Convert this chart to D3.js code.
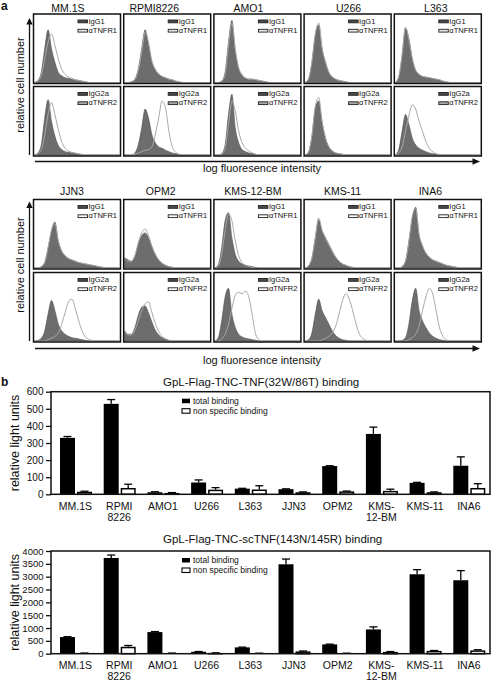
<!DOCTYPE html>
<html><head><meta charset="utf-8">
<script src="https://cdn.jsdelivr.net/npm/d3@7"></script>
<style>
body{margin:0;background:#fff}
svg{display:block}
text{font-family:"Liberation Sans",Arial,Helvetica,sans-serif;fill:#111}
</style>
</head><body>
<svg id="c" width="493" height="683"></svg>
<script>
// ---------- DATA ----------
const cellLinesA1 = ["MM.1S","RPMI8226","AMO1","U266","L363"];
const cellLinesA2 = ["JJN3","OPM2","KMS-12-BM","KMS-11","INA6"];
const legendRow1 = ["IgG1","\u03b1TNFR1"];
const legendRow2 = ["IgG2a","\u03b1TNFR2"];
// histograms: 26 bins along log fluorescence, % of panel height
// order: MM.1S, RPMI8226, AMO1, U266, L363, JJN3, OPM2, KMS-12-BM, KMS-11, INA6
const igg1Hist = [
 [0,3,15,50,78,50,30,15,10,7,6,5,4,3,2,1,0,0,0,0,0,0,0,0,0,0],
 [0,0,1,5,20,50,78,55,30,18,12,9,7,5,4,2,1,0,0,0,0,0,0,0,0,0],
 [0,0,2,15,60,92,45,20,10,6,5,5,4,3,2,1,0,0,0,0,0,0,0,0,0,0],
 [0,5,30,70,85,50,30,15,8,5,3,2,1,0,0,0,0,0,0,0,0,0,0,0,0,0],
 [0,8,40,80,65,35,18,12,9,8,7,6,5,4,2,1,0,0,0,0,0,0,0,0,0,0],
 [0,0,2,8,30,55,68,40,25,18,14,12,10,8,7,6,5,4,3,2,1,0,0,0,0,0],
 [15,12,10,18,35,48,52,45,32,20,12,7,4,2,1,0,0,0,0,0,0,0,0,0,0,0],
 [0,5,30,70,82,45,20,10,6,4,3,2,1,0,0,0,0,0,0,0,0,0,0,0,0,0],
 [0,3,15,45,72,55,45,35,25,16,10,6,4,2,1,0,0,0,0,0,0,0,0,0,0,0],
 [0,0,2,10,40,75,90,48,32,22,16,12,10,8,6,4,3,2,1,0,0,0,0,0,0,0]
];
const tnfr1Hist = [
 [0,2,10,35,60,72,55,35,20,12,8,6,4,3,2,1,0,0,0,0,0,0,0,0,0,0],
 [0,0,1,4,18,45,75,60,32,20,13,9,7,5,4,2,1,0,0,0,0,0,0,0,0,0],
 [0,0,2,12,55,88,50,22,12,7,5,5,4,3,2,1,0,0,0,0,0,0,0,0,0,0],
 [0,5,30,72,88,50,30,15,8,5,3,2,1,0,0,0,0,0,0,0,0,0,0,0,0,0],
 [0,8,40,82,63,35,18,12,9,8,7,6,5,4,2,1,0,0,0,0,0,0,0,0,0,0],
 [0,0,2,8,30,56,66,40,25,18,14,12,10,8,7,6,5,4,3,2,1,0,0,0,0,0],
 [14,10,10,18,38,52,58,48,32,20,12,7,4,2,1,0,0,0,0,0,0,0,0,0,0,0],
 [0,3,20,55,80,70,40,18,8,4,2,1,0,0,0,0,0,0,0,0,0,0,0,0,0,0],
 [0,3,14,44,74,56,44,34,24,16,10,6,4,2,1,0,0,0,0,0,0,0,0,0,0,0],
 [0,0,2,10,38,76,88,50,33,22,16,12,10,8,6,4,3,2,1,0,0,0,0,0,0,0]
];
const igg2aHist = [
 [0,3,15,55,82,50,28,14,8,5,4,3,2,1,0,0,0,0,0,0,0,0,0,0,0,0],
 [0,0,0,3,15,40,68,55,30,18,12,10,7,5,3,2,1,0,0,0,0,0,0,0,0,0],
 [0,0,2,15,60,90,40,18,8,5,3,2,1,0,0,0,0,0,0,0,0,0,0,0,0,0],
 [0,4,28,70,80,48,25,12,6,3,2,1,0,0,0,0,0,0,0,0,0,0,0,0,0,0],
 [0,8,35,60,45,25,15,10,7,5,3,2,1,0,0,0,0,0,0,0,0,0,0,0,0,0],
 [0,1,4,15,40,60,45,25,15,10,7,5,4,3,2,1,0,0,0,0,0,0,0,0,0,0],
 [15,10,10,20,38,50,52,42,28,16,9,5,3,1,0,0,0,0,0,0,0,0,0,0,0,0],
 [0,5,30,65,78,40,20,10,6,4,3,2,1,0,0,0,0,0,0,0,0,0,0,0,0,0],
 [0,2,12,40,62,45,35,25,15,8,4,2,1,0,0,0,0,0,0,0,0,0,0,0,0,0],
 [0,0,1,5,25,60,78,45,30,20,12,7,4,2,1,0,0,0,0,0,0,0,0,0,0,0]
];
const tnfr2Hist = [
 [0,2,8,30,60,78,60,38,20,10,6,4,3,2,1,0,0,0,0,0,0,0,0,0,0,0],
 [0,0,0,1,3,5,7,8,12,30,55,80,70,35,12,4,1,0,0,0,0,0,0,0,0,0],
 [0,0,1,10,45,80,65,35,18,10,6,3,1,0,0,0,0,0,0,0,0,0,0,0,0,0],
 [0,4,28,72,85,50,25,12,6,3,2,1,0,0,0,0,0,0,0,0,0,0,0,0,0,0],
 [0,3,12,35,58,74,68,50,35,20,10,5,2,1,0,0,0,0,0,0,0,0,0,0,0,0],
 [0,0,0,0,2,4,7,12,25,42,58,62,48,30,15,6,2,1,0,0,0,0,0,0,0,0],
 [14,9,9,16,30,45,55,58,42,26,14,7,3,1,0,0,0,0,0,0,0,0,0,0,0,0],
 [0,0,3,10,25,48,68,72,70,74,65,38,10,2,0,0,0,0,0,0,0,0,0,0,0,0],
 [0,0,0,0,0,2,4,7,12,22,40,60,70,62,45,25,10,4,1,0,0,0,0,0,0,0],
 [0,0,0,0,2,5,10,22,45,65,78,70,45,20,7,2,0,0,0,0,0,0,0,0,0,0]
];

const cellLinesB = ["MM.1S","RPMI\n8226","AMO1","U266","L363","JJN3","OPM2","KMS-\n12-BM","KMS-11","INA6"];
const seriesNames = ["total binding","non specific binding"];
const ticksTNF = [0,100,200,300,400,500,600];
const tnfTotal     = [330,529,12,69,33,30,165,353,67,167];
const tnfTotalErr  = [8,25,3,15,2,2,2,40,3,52];
const tnfNonspec   = [15,37,8,27,28,12,17,20,12,37];
const tnfNonspecErr= [3,22,2,12,22,2,2,10,2,25];
const ticksSc = [0,500,1000,1500,2000,2500,3000,3500,4000];
const scTotal      = [648,3728,842,75,246,3482,362,945,3094,2861];
const scTotalErr   = [15,115,20,10,10,205,10,100,180,375];
const scNonspec    = [20,270,20,30,15,90,15,70,110,130];
const scNonspecErr = [5,50,5,5,5,15,5,15,15,25];

// ---------- DRAW ----------
const svg = d3.select("#c");
const FONT = '"Liberation Sans",Arial,Helvetica,sans-serif';

// panel letters
svg.append("text").attr("x",1).attr("y",10).attr("font-size",12).attr("font-weight","bold").text("a");
svg.append("text").attr("x",1).attr("y",386).attr("font-size",12).attr("font-weight","bold").text("b");

// ----- panel a: flow cytometry histograms -----
const colX = d3.scaleLinear().domain([0,4]).range([33.5,394.3]);
const panelW = 87, panelH = 69.5;
const blocks = [
  {cells:cellLinesA1, offset:0, rows:[14,86.5], titleY:12, titleShift:[-9,-13,-9,1,-2],
   yTop:18, yBot:155, axisY:161.5, xLabY:172, yLabY:85, leg2Fill:["#e4e4e4","#a9a9a9"]},
  {cells:cellLinesA2, offset:5, rows:[199.5,272.5], titleY:195, titleShift:[-5,-6.5,-4.5,-5,-7.5],
   yTop:201.5, yBot:341, axisY:348.5, xLabY:363.5, yLabY:265, leg2Fill:["#fafafa","#fafafa"]}
];

blocks.forEach(blk=>{
  blk.cells.forEach((name,c)=>{
    const x0 = colX(c);
    svg.append("text").attr("x",x0+panelW/2+blk.titleShift[c]).attr("y",blk.titleY)
      .attr("text-anchor","middle").attr("font-size",10.5).text(name);
    [0,1].forEach(r=>{
      const y0 = blk.rows[r];
      const k = blk.offset + c;
      const isoData = (r===0?igg1Hist:igg2aHist)[k];
      const abData  = (r===0?tnfr1Hist:tnfr2Hist)[k];
      const hx = d3.scaleLinear().domain([0,25]).range([x0+1,x0+panelW-1]);
      const hy = d3.scaleLinear().domain([0,100]).range([y0+panelH-1,y0+1]);
      const area = d3.area().x((d,i)=>hx(i)).y0(hy(0)).y1(d=>hy(d)).curve(d3.curveMonotoneX);
      const line = d3.line().x((d,i)=>hx(i)).y(d=>hy(d)).curve(d3.curveMonotoneX);
      svg.append("path").attr("d",area(isoData)).attr("fill","#6d6d6d").attr("stroke","#4d4d4d").attr("stroke-width",0.6);
      svg.append("path").attr("d",line(abData)).attr("fill","none").attr("stroke","#a8a8a8").attr("stroke-width",1);
      svg.append("rect").attr("x",x0).attr("y",y0).attr("width",panelW).attr("height",panelH)
        .attr("fill","none").attr("stroke","#111").attr("stroke-width",1.5);
      const labels = r===0?legendRow1:legendRow2;
      labels.forEach((lab,j)=>{
        svg.append("rect").attr("x",x0+44.5).attr("y",y0+6+j*9.3).attr("width",9.5).attr("height",2.8)
          .attr("fill", j===0 ? "#4a4a4a" : blk.leg2Fill[r]).attr("stroke","#222").attr("stroke-width",0.9);
        svg.append("text").attr("x",x0+55).attr("y",y0+9.6+j*9.3).attr("font-size",7.5).text(lab);
      });
    });
  });
  // axes arrows
  svg.append("line").attr("x1",29.5).attr("x2",29.5).attr("y1",blk.yTop+5).attr("y2",blk.yBot)
    .attr("stroke","#111").attr("stroke-width",1.3);
  svg.append("path").attr("d",`M29.5,${blk.yTop} L26.3,${blk.yTop+6.5} L32.7,${blk.yTop+6.5} Z`).attr("fill","#111");
  svg.append("line").attr("x1",35).attr("x2",474).attr("y1",blk.axisY).attr("y2",blk.axisY)
    .attr("stroke","#111").attr("stroke-width",1.3);
  svg.append("path").attr("d",`M480,${blk.axisY} L472.5,${blk.axisY-3.3} L472.5,${blk.axisY+3.3} Z`).attr("fill","#111");
  svg.append("text").attr("x",262).attr("y",blk.xLabY).attr("text-anchor","middle").attr("font-size",11)
    .text("log fluoresence intensity");
  svg.append("text").attr("transform",`translate(24,${blk.yLabY}) rotate(-90)`).attr("text-anchor","middle")
    .attr("font-size",11).text("relative cell number");
});

// ----- panel b: bar charts -----
function barChart(cfg){
  const x = d3.scaleBand().domain(d3.range(cellLinesB.length)).range([51,488]);
  const y = d3.scaleLinear().domain([0,cfg.ticks[cfg.ticks.length-1]]).range([cfg.bottom,cfg.top]);
  const g = svg.append("g");
  const ax = g.append("g").attr("transform","translate(51,0)")
    .call(d3.axisLeft(y).tickValues(cfg.ticks).tickFormat(d3.format("d")).tickSize(5).tickPadding(2.5));
  ax.attr("font-family",FONT);
  ax.select(".domain").remove();
  ax.selectAll("text").attr("font-size",cfg.tickFont).attr("fill","#111");
  ax.selectAll("line").attr("stroke","#111").attr("stroke-width",1.3);

  const bw = 15;
  const bars = [
    {vals:cfg.total, errs:cfg.totalErr, off:9, fill:"#000"},
    {vals:cfg.ns, errs:cfg.nsErr, off:26, fill:"#fff"}
  ];
  bars.forEach(s=>{
    s.vals.forEach((v,i)=>{
      const cx = x(i)+s.off+bw/2;
      g.append("line").attr("x1",cx).attr("x2",cx).attr("y1",y(v)).attr("y2",y(v+s.errs[i]))
        .attr("stroke","#000").attr("stroke-width",1.3);
      g.append("line").attr("x1",cx-4).attr("x2",cx+4).attr("y1",y(v+s.errs[i])).attr("y2",y(v+s.errs[i]))
        .attr("stroke","#000").attr("stroke-width",1.3);
    });
    g.selectAll(null).data(s.vals).join("rect")
      .attr("x",(d,i)=>x(i)+s.off+(s.fill==="#fff"?0.75:0))
      .attr("width",s.fill==="#fff"?bw-1.5:bw)
      .attr("y",d=>y(d)+(s.fill==="#fff"?0.75:0))
      .attr("height",d=>Math.max(0,y(0)-y(d)-(s.fill==="#fff"?0.75:0)))
      .attr("fill",s.fill)
      .attr("stroke","#000").attr("stroke-width",s.fill==="#fff"?1.5:0);
  });
  g.append("rect").attr("x",51).attr("y",cfg.top).attr("width",439).attr("height",cfg.bottom-cfg.top)
    .attr("fill","none").attr("stroke","#111").attr("stroke-width",1.5);
  cellLinesB.forEach((lab,i)=>{
    const t = g.append("text").attr("x",x(i)+24.5).attr("y",cfg.labelY).attr("text-anchor","middle").attr("font-size",10.5);
    lab.split("\n").forEach((ln,j)=>{
      t.append("tspan").attr("x",x(i)+24.5).attr("dy",j===0?0:11).text(ln);
    });
  });
  g.append("text").attr("x",163).attr("y",cfg.titleY).attr("font-size",11.5).text(cfg.title);
  g.append("text").attr("transform",`translate(19,${(cfg.top+cfg.bottom)/2}) rotate(-90)`)
    .attr("text-anchor","middle").attr("font-size",12.5).text("relative light units");
  seriesNames.forEach((n,j)=>{
    g.append("rect").attr("x",182).attr("y",cfg.top+7+j*10).attr("width",8).attr("height",4.5)
      .attr("fill",j===0?"#000":"#fff").attr("stroke","#000").attr("stroke-width",j===0?0:1.1);
    g.append("text").attr("x",193).attr("y",cfg.top+12+j*10).attr("font-size",8.5).text(n);
  });
}

barChart({top:391.7,bottom:494.3,ticks:ticksTNF,tickFont:10,total:tnfTotal,totalErr:tnfTotalErr,
  ns:tnfNonspec,nsErr:tnfNonspecErr,labelY:510,titleY:385.5,title:"GpL-Flag-TNC-TNF(32W/86T) binding"});
barChart({top:551,bottom:653.7,ticks:ticksSc,tickFont:9.5,total:scTotal,totalErr:scTotalErr,
  ns:scNonspec,nsErr:scNonspecErr,labelY:669,titleY:543,title:"GpL-Flag-TNC-scTNF(143N/145R) binding"});
</script>
</body></html>
